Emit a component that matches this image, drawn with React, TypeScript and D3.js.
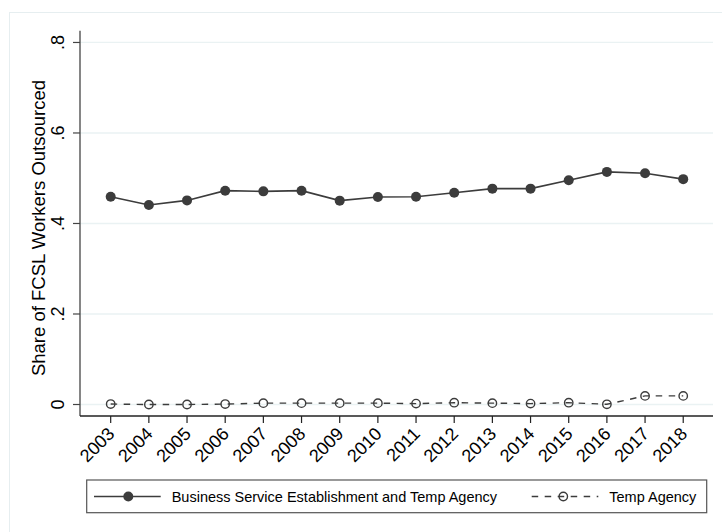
import React from "react";
import * as d3 from "d3";

const years = [2003, 2004, 2005, 2006, 2007, 2008, 2009, 2010, 2011, 2012, 2013, 2014, 2015, 2016, 2017, 2018];
const businessTemp = [0.459, 0.441, 0.451, 0.4725, 0.471, 0.4725, 0.4505, 0.4586, 0.459, 0.468, 0.477, 0.477, 0.4955, 0.514, 0.511, 0.498];
const tempAgency = [0.001, 0.0, 0.0, 0.001, 0.003, 0.003, 0.003, 0.003, 0.002, 0.004, 0.003, 0.002, 0.004, 0.0005, 0.019, 0.019];
const yTicks = [0, 0.2, 0.4, 0.6, 0.8];
const yTickLabels = ["0", ".2", ".4", ".6", ".8"];
const seriesNames = ["Business Service Establishment and Temp Agency", "Temp Agency"];
const yTitle = "Share of FCSL Workers Outsourced";

const W = 722;
const H = 532;
const FONT = "'Liberation Sans', Arial, Helvetica, sans-serif";
const INK = "#3c3c3c";

export default function App() {
  const x = d3.scaleLinear().domain([2002.196, 2018.78]).range([80, 713]);
  const y = d3.scaleLinear().domain([-0.0254, 0.826]).range([416, 30.7]);
  const line = d3
    .line<[number, number]>()
    .x((d) => x(d[0]))
    .y((d) => y(d[1]));
  const bizPts: [number, number][] = years.map((yr, i) => [yr, businessTemp[i]]);
  const tempPts: [number, number][] = years.map((yr, i) => [yr, tempAgency[i]]);
  const [x0, x1] = x.range();
  const [yBottom, yTop] = y.range();

  return (
    <svg
      width={W}
      height={H}
      style={{ position: "absolute", left: 0, top: 0, background: "#fff" }}
      fontFamily={FONT}
    >
      <rect x={0} y={0} width={W} height={H} fill="#fff" />
      {/* outer graph region border */}
      <rect x={9.5} y={12.5} width={W + 20} height={H + 20} fill="none" stroke="#e6eef0" strokeWidth={1} />

      {/* gridlines */}
      {yTicks.map((t) => (
        <line key={"g" + t} x1={x0} x2={x1} y1={y(t)} y2={y(t)} stroke="#eaf2f3" strokeWidth={1.3} />
      ))}

      {/* y axis */}
      <line x1={x0} x2={x0} y1={yTop} y2={yBottom} stroke="#444" strokeWidth={1.3} />
      {yTicks.map((t, i) => (
        <g key={"yt" + t}>
          <line x1={x0 - 7} x2={x0} y1={y(t)} y2={y(t)} stroke="#444" strokeWidth={1.2} />
          <text
            transform={`translate(63.5,${y(t)}) rotate(-90)`}
            textAnchor="middle"
            fontSize={18}
            fill="#000"
          >
            {yTickLabels[i]}
          </text>
        </g>
      ))}
      <text transform={`translate(45,228) rotate(-90)`} textAnchor="middle" fontSize={18.5} fill="#000">
        {yTitle}
      </text>

      {/* x axis */}
      <line x1={x0} x2={x1} y1={yBottom} y2={yBottom} stroke="#222" strokeWidth={1.3} />
      {years.map((yr) => (
        <g key={"xt" + yr}>
          <line x1={x(yr)} x2={x(yr)} y1={yBottom} y2={yBottom + 7} stroke="#222" strokeWidth={1.2} />
          <text
            transform={`translate(${x(yr) + 5},435) rotate(-45)`}
            textAnchor="end"
            fontSize={18}
            fill="#000"
          >
            {String(yr)}
          </text>
        </g>
      ))}

      {/* series: temp agency (dashed, hollow) */}
      <path d={line(tempPts) || ""} fill="none" stroke={INK} strokeWidth={1.4} strokeDasharray="6.5 6.5" />
      {tempPts.map((p) => (
        <circle key={"tc" + p[0]} cx={x(p[0])} cy={y(p[1])} r={4.2} fill="none" stroke={INK} strokeWidth={1.4} />
      ))}

      {/* series: business service + temp agency */}
      <path d={line(bizPts) || ""} fill="none" stroke={INK} strokeWidth={1.6} />
      {bizPts.map((p) => (
        <circle key={"bc" + p[0]} cx={x(p[0])} cy={y(p[1])} r={5} fill={INK} />
      ))}

      {/* legend */}
      <rect x={86.7} y={480} width={620} height={32.7} fill="#fff" stroke="#555" strokeWidth={1.2} />
      <line x1={94} x2={160.7} y1={496.5} y2={496.5} stroke={INK} strokeWidth={1.6} />
      <circle cx={128.3} cy={496.5} r={5} fill={INK} />
      <text x={171.7} y={501.7} fontSize={14.5} fill="#000">
        {seriesNames[0]}
      </text>
      <line x1={531.7} x2={598.3} y1={496.5} y2={496.5} stroke={INK} strokeWidth={1.4} strokeDasharray="6.5 6.5" />
      <circle cx={563.3} cy={496.5} r={4.2} fill="none" stroke={INK} strokeWidth={1.4} />
      <text x={609.3} y={501.7} fontSize={14.5} fill="#000">
        {seriesNames[1]}
      </text>
    </svg>
  );
}
